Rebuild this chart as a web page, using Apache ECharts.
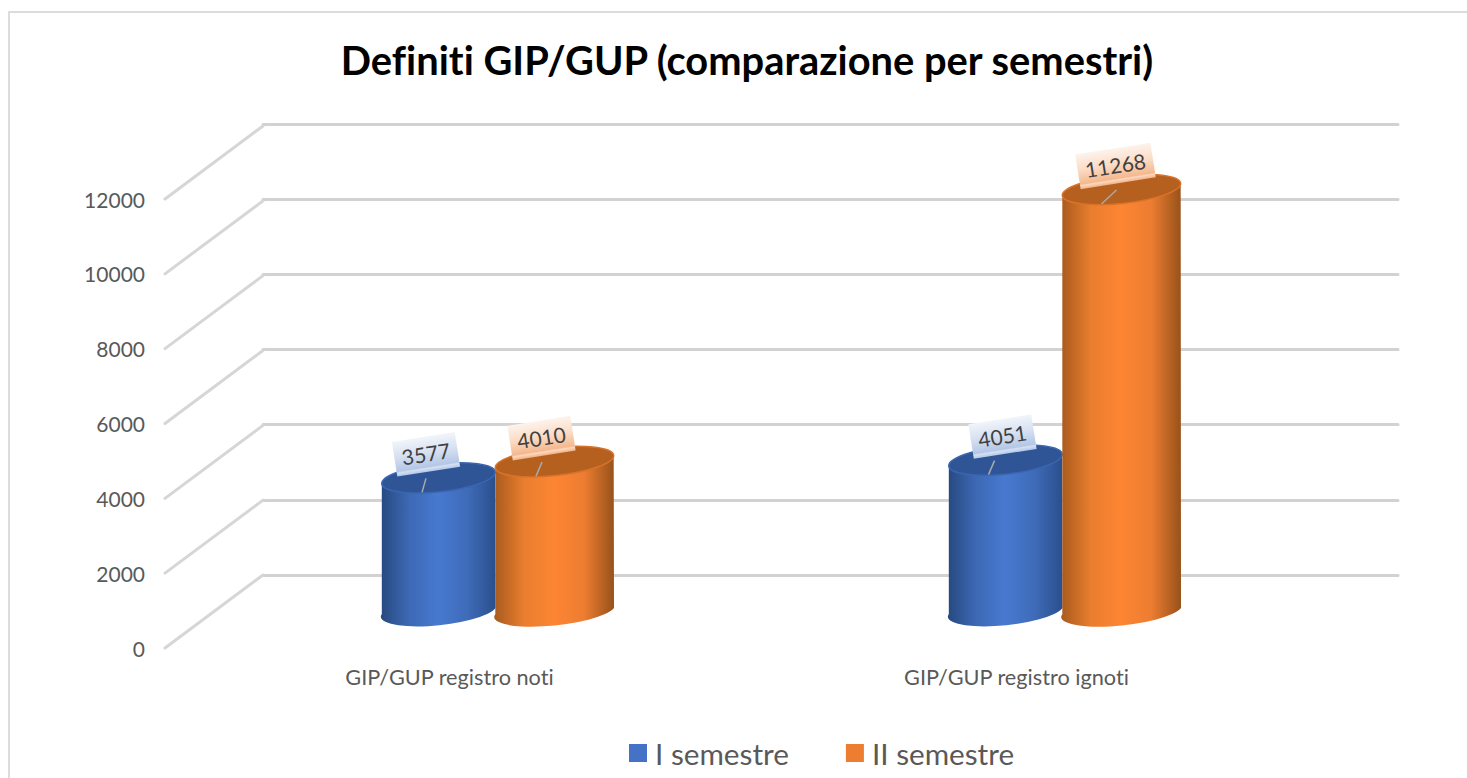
<!DOCTYPE html>
<html>
<head>
<meta charset="utf-8">
<style>html,body{margin:0;padding:0;background:#fff}#c{width:1467px;height:778px}
#c text{font-variant-ligatures:none !important}</style>
<script src="https://cdn.jsdelivr.net/npm/echarts@6/dist/echarts.min.js"></script>
</head>
<body>
<div id="c"></div>
<script>
const categories = ['GIP/GUP registro noti', 'GIP/GUP registro ignoti'];
const seriesNames = ['I semestre', 'II semestre'];
const semester1 = [3577, 4051];
const semester2 = [4010, 11268];
const yTicks = [0, 2000, 4000, 6000, 8000, 10000, 12000];

const FONT = 'Lato, "Open Sans", sans-serif';
const TILT = 6;
const RY = 14;
const DEPTH_X = 98, DEPTH_Y = 73, FRONT_SHIFT = -1;

const looks = [
  { off: -58, rx: 57, legend: '#4472c4',
    body: ['#27497f', '#3d69b5', '#4779d0', '#3f6cb9', '#2a4f8d'],
    top: '#2f5597', rim: '#3a66b0',
    tag: ['#f1f5fb', '#d6e0f1', '#b4c7e7', '#d5e0f2', '#b4c7e7'],
    labelDx: [-12.5, -3], leaderTop: [-12.5, -11], leaderBot: [-16.5, -17] },
  { off: 58, rx: 59.5, legend: '#ed7d31',
    body: ['#a85a1e', '#e97e2e', '#fd8533', '#ed7d31', '#97521a'],
    top: '#b5601e', rim: '#d9732a',
    tag: ['#fdf3ec', '#fbdcc6', '#f5b88d', '#fad9c2', '#f4b183'],
    labelDx: [-13, -6], leaderTop: [-12.5, -5], leaderBot: [-18.5, -20] }
];

function grad(colors) {
  return { type: 'linear', x: 0, y: 0, x2: 1, y2: 0,
    colorStops: colors.map((c, i) => ({ offset: i / (colors.length - 1), color: c })) };
}

function cylinder(look) {
  return function (params, api) {
    const i = api.value(0), v = api.value(1);
    const p = api.coord([i, v]);
    const base = api.coord([i, 0]);
    const RX = look.rx;
    const cx = p[0] + look.off;
    const cy = p[1], by = base[1] - 4;
    const a = TILT * Math.PI / 180;
    const ex = RX * Math.cos(a), ey = RX * Math.sin(a);
    const bodyPath = 'M' + (cx - ex) + ' ' + (cy + ey) +
      'L' + (cx - ex) + ' ' + (by + ey) +
      'A' + RX + ' ' + RY + ' ' + (-TILT) + ' 0 0 ' + (cx + ex) + ' ' + (by - ey) +
      'L' + (cx + ex) + ' ' + (cy - ey) + 'Z';
    const text = String(v);
    const w = 14 + 12.4 * text.length, h = 35;
    const lx = cx + look.labelDx[i], ly = cy - 23.5;
    return {
      type: 'group',
      children: [
        { type: 'path', shape: { pathData: bodyPath }, style: { fill: grad(look.body) } },
        { type: 'ellipse', x: cx, y: cy, rotation: a,
          shape: { cx: 0, cy: 0, rx: RX, ry: RY },
          style: { fill: look.top, stroke: look.rim, lineWidth: 1.5 } },
        { type: 'line',
          shape: { x1: cx + look.leaderBot[i], y1: cy + 14.5,
                   x2: cx + look.leaderTop[i], y2: cy + 0.5 },
          style: { stroke: '#a9a9a9', lineWidth: 1.5 } },
        { type: 'group', x: lx, y: ly, rotation: 9 * Math.PI / 180,
          children: [
            { type: 'rect', shape: { x: -w / 2, y: -h / 2, width: w, height: h },
              style: { fill: { type: 'linear', x: 0, y: 0, x2: 0, y2: 1,
                colorStops: [
                  { offset: 0, color: look.tag[0] },
                  { offset: 0.45, color: look.tag[1] },
                  { offset: 0.86, color: look.tag[2] },
                  { offset: 0.9, color: look.tag[3] },
                  { offset: 1, color: look.tag[4] }
                ] } } },
            { type: 'text', x: 0, y: -1,
              style: { text: text, fill: '#404040', font: '21px ' + FONT,
                       align: 'center', verticalAlign: 'middle' } }
          ] }
      ]
    };
  };
}

const sideWall = {
  type: 'custom', name: 'wall', xAxisIndex: 0, yAxisIndex: 0, silent: true, z: 1,
  data: yTicks.map(t => [0, t]),
  encode: { x: 0, y: 1 },
  renderItem: function (params, api) {
    const y = api.coord([0, api.value(1)])[1];
    const x = params.coordSys.x + FRONT_SHIFT;
    return { type: 'line',
      shape: { x1: x, y1: y, x2: x + DEPTH_X, y2: y - DEPTH_Y },
      style: { stroke: '#d6d6d6', lineWidth: 3, lineCap: 'round' } };
  }
};

function cylSeries(idx, values) {
  return {
    type: 'custom', name: seriesNames[idx], xAxisIndex: 2, yAxisIndex: 2, z: 5 + idx,
    itemStyle: { color: looks[idx].legend },
    encode: { x: 0, y: 1 },
    data: values.map((v, i) => [i, v]),
    renderItem: cylinder(looks[idx]),
    clip: false
  };
}

const yBase = { type: 'value', min: 0, max: 12000, interval: 2000 };
const noLine = { axisLine: { show: false }, axisTick: { show: false } };

const chart = echarts.init(document.getElementById('c'), null, { renderer: 'svg' });
chart.setOption({
  animation: false,
  backgroundColor: '#ffffff',
  title: {
    text: 'Definiti GIP/GUP (comparazione per semestri)',
    left: 742, top: 34, textAlign: 'center',
    textStyle: { fontFamily: FONT, fontWeight: 'bold', fontSize: 39.85, color: '#000000' }
  },
  legend: {
    left: 629, top: 738, padding: 0, icon: 'rect', itemWidth: 18, itemHeight: 18, itemGap: 57,
    data: seriesNames,
    textStyle: { fontFamily: FONT, fontSize: 29.7, color: '#595959', padding: [0, 0, 0, 3] }
  },
  graphic: [{
    type: 'polyline', silent: true,
    shape: { points: [[9, 778], [9, 12], [1467, 12]] },
    style: { stroke: '#dcdcdc', lineWidth: 2, fill: null }
  }],
  grid: [
    { left: 166, top: 199, width: 1134, height: 449 },
    { left: 263, top: 124, width: 1135, height: 451 },
    { left: 213, top: 162, width: 1134, height: 450 }
  ],
  xAxis: [
    { type: 'category', gridIndex: 0, data: categories, ...noLine,
      axisLabel: { margin: 18, fontFamily: FONT, fontSize: 21.7, color: '#595959' } },
    { type: 'category', gridIndex: 1, data: categories, ...noLine, axisLabel: { show: false } },
    { type: 'category', gridIndex: 2, data: categories, ...noLine, axisLabel: { show: false } }
  ],
  yAxis: [
    { ...yBase, gridIndex: 0, ...noLine, splitLine: { show: false },
      axisLabel: { margin: 21, fontFamily: FONT, fontSize: 21, color: '#595959',
                   padding: [2, 0, 0, 0], formatter: v => String(v) } },
    { ...yBase, gridIndex: 1, ...noLine, axisLabel: { show: false },
      splitLine: { show: true, lineStyle: { color: '#d2d2d2', width: 3, cap: 'round' } } },
    { ...yBase, gridIndex: 2, ...noLine, axisLabel: { show: false }, splitLine: { show: false } }
  ],
  series: [sideWall, cylSeries(0, semester1), cylSeries(1, semester2)]
});
</script>
</body>
</html>
